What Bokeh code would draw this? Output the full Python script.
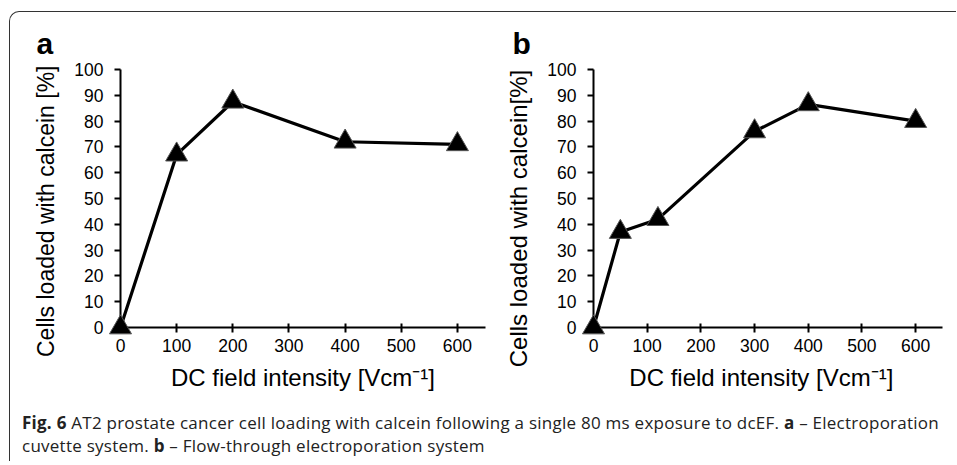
from bokeh.plotting import figure
from bokeh.models import Div, FixedTicker, Title
from bokeh.layouts import row, column
from bokeh.embed import file_html
from bokeh.resources import INLINE

x_ticks = [0, 100, 200, 300, 400, 500, 600]
y_ticks = [0, 10, 20, 30, 40, 50, 60, 70, 80, 90, 100]

a_field = [0, 100, 200, 400, 600]
a_loaded = [0, 67, 87.5, 72, 71]

b_field = [0, 50, 120, 300, 400, 600]
b_loaded = [0, 37, 42, 76, 86.5, 80]

x_title = "DC field intensity [Vcm⁻¹]"
a_y_title = "Cells loaded with calcein [%]"
b_y_title = "Cells loaded with calcein[%]"

FONT = "Liberation Sans"
NB = "\u00a0"


def panel(letter, xs, ys, ylabel, xlabel, width, height, mbl, mbr, mbt, mbb,
          letter_off, ylab_size):
    p = figure(width=width, height=height, x_range=(0, 650), y_range=(0, 100),
               output_backend="svg", toolbar_location=None,
               min_border_left=mbl, min_border_right=mbr,
               min_border_top=mbt, min_border_bottom=mbb)
    p.outline_line_color = None
    p.background_fill_color = None
    p.border_fill_color = None
    p.grid.visible = False
    for ax in (p.xaxis[0], p.yaxis[0]):
        ax.axis_line_width = 2
        ax.axis_line_color = "black"
        ax.major_tick_line_width = 2
        ax.major_tick_line_color = "black"
        ax.minor_tick_line_color = None
        ax.major_label_text_font = FONT
        ax.major_label_text_font_size = "17.5px"
        ax.major_label_text_color = "black"
        ax.axis_label_text_font = FONT
        ax.axis_label_text_font_style = "normal"
        ax.axis_label_text_color = "black"
    xa = p.xaxis[0]
    xa.ticker = FixedTicker(ticks=x_ticks)
    xa.major_tick_in = 4
    xa.major_tick_out = 5
    xa.major_label_standoff = 6
    xa.axis_label = xlabel
    xa.axis_label_text_font_size = "24px"
    xa.axis_label_standoff = 9
    ya = p.yaxis[0]
    ya.ticker = FixedTicker(ticks=y_ticks)
    ya.major_tick_in = 0
    ya.major_tick_out = 6
    ya.major_label_standoff = 11
    ya.axis_label = ylabel
    ya.axis_label_text_font_size = ylab_size
    ya.axis_label_standoff = 12

    p.line(xs, ys, line_width=3.2, line_color="black", level="overlay")
    p.scatter(xs, ys, marker="triangle", size=22, fill_color="black",
              line_color="#555555", line_width=1, level="overlay")
    p.title = Title(text=letter, text_font=FONT, text_font_size="30px",
                    text_font_style="bold", text_color="black",
                    align="left", offset=letter_off, standoff=19)
    return p


pa = panel("a", a_field, a_loaded, a_y_title + NB * 4, x_title,
           480, 387, 110, 5, 57, 72, -84, "23px")
pb = panel("b", b_field, b_loaded, b_y_title + NB * 6, x_title + NB * 2,
           466, 387, 103, 14, 54, 72, -81, "24px")

caption = Div(
    text=("<b>Fig. 6</b> AT2 prostate cancer cell loading with calcein following a single 80 ms "
          "exposure to dcEF. <b>a</b> &ndash; Electroporation<br>cuvette system. <b>b</b> &ndash; "
          "Flow-through electroporation system"),
    width=940, height=62, margin=(0, 0, 0, 0),
    styles={"font-family": "'Open Sans', sans-serif",
            "font-size": "17px", "line-height": "23.3px", "color": "#222",
            "letter-spacing": "0.25px",
            "padding-left": "12px", "padding-top": "12px", "white-space": "nowrap"})

layout = column(row(pa, pb), caption,
                styles={"border-top": "1.5px solid #333", "border-left": "1.5px solid #333",
                        "border-top-left-radius": "10px"},
                margin=(11, 0, 0, 9))

open("out.html", "w").write(file_html(layout, INLINE))
